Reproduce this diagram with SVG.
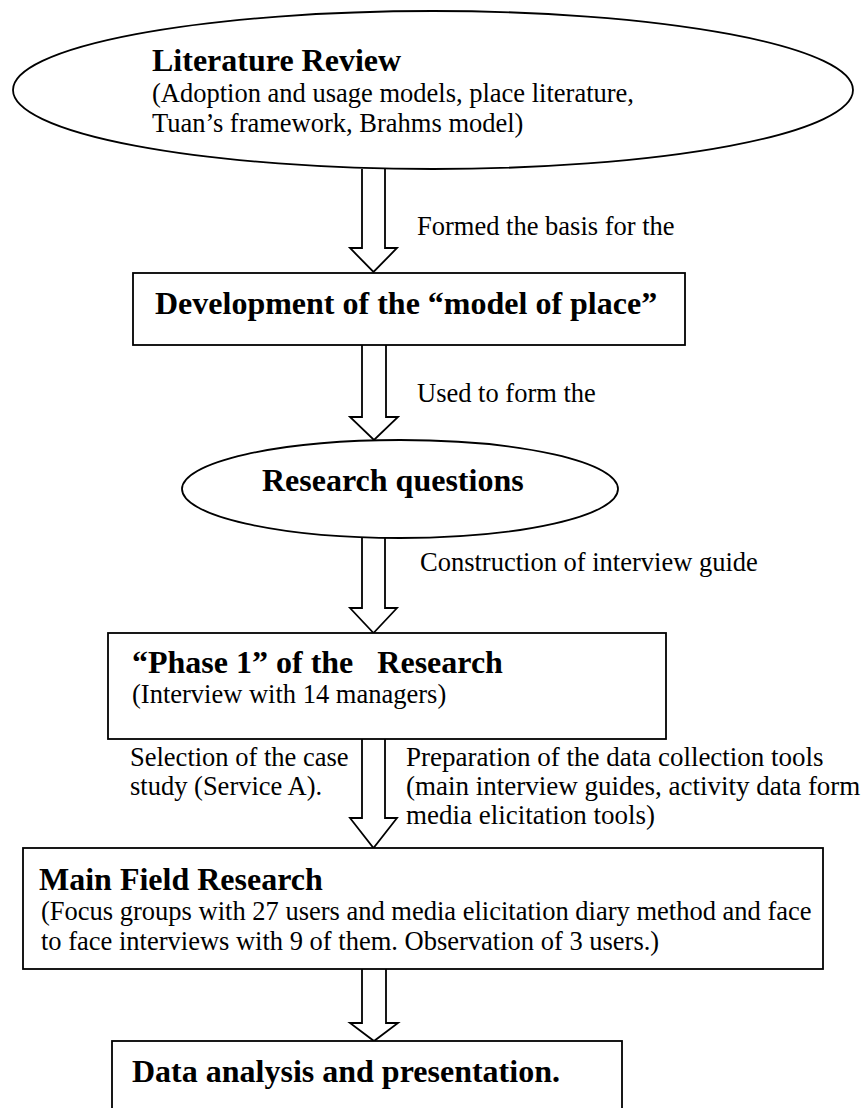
<svg xmlns="http://www.w3.org/2000/svg" width="866" height="1108" viewBox="0 0 866 1108">
  <defs>
    <style>
      .shape { fill: #ffffff; stroke: #000000; stroke-width: 1.8; }
      .arrow { fill: #ffffff; stroke: #000000; stroke-width: 1.8; stroke-linejoin: miter; }
      .title { font-family: "Liberation Serif", "Times New Roman", serif; font-size: 32px; font-weight: bold; fill: #000000; white-space: pre; }
      .body { font-family: "Liberation Serif", "Times New Roman", serif; font-size: 26.5px; fill: #000000; white-space: pre; }
    </style>
  </defs>
  <rect width="866" height="1108" fill="#ffffff"/>

  <!-- block arrows between the stages, with their labels -->
  <g id="connectors">
    <path class="arrow" d="M362,169 V248 H350 L373.5,272 L397,248 H385 V169"/>
    <path class="arrow" d="M362,345 V417 H350 L374,440 L398,417 H386 V345"/>
    <path class="arrow" d="M362,537 V608 H350 L373.5,633 L397,608 H385 V537"/>
    <path class="arrow" d="M362,739 V818 H350 L373.5,848 L397,818 H385 V739"/>
    <path class="arrow" d="M362,969 V1023 H350 L374,1041 L398,1023 H386 V969"/>
    <text class="body" x="417" y="235">Formed the basis for the</text>
    <text class="body" x="417" y="402">Used to form the</text>
    <text class="body" x="420" y="571">Construction of interview guide</text>
    <text class="body" x="130" y="766">Selection of the case</text>
    <text class="body" x="130" y="795">study (Service A).</text>
    <text class="body" x="406" y="766" style="font-size:27px">Preparation of the data collection tools</text>
    <text class="body" x="406" y="795" style="font-size:27px">(main interview guides, activity data form</text>
    <text class="body" x="406" y="824" style="font-size:27px">media elicitation tools)</text>
  </g>

  <g id="literature-review">
    <ellipse class="shape" cx="433" cy="90" rx="420" ry="79"/>
    <text class="title" x="152" y="71">Literature Review</text>
    <text class="body" x="152" y="102">(Adoption and usage models, place literature,</text>
    <text class="body" x="152" y="132">Tuan’s framework, Brahms model)</text>
  </g>

  <g id="model-of-place">
    <rect class="shape" x="133" y="273" width="552" height="72"/>
    <text class="title" x="155" y="314">Development of the “model of place”</text>
  </g>

  <g id="research-questions">
    <ellipse class="shape" cx="400" cy="489" rx="218" ry="49"/>
    <text class="title" x="262" y="491">Research questions</text>
  </g>

  <g id="phase-1">
    <rect class="shape" x="108" y="633" width="558" height="106"/>
    <text class="title" x="132" y="673">“Phase 1” of the   Research</text>
    <text class="body" x="132" y="703">(Interview with 14 managers)</text>
  </g>

  <g id="main-field-research">
    <rect class="shape" x="23" y="848" width="800" height="121"/>
    <text class="title" x="39" y="890">Main Field Research</text>
    <text class="body" x="41" y="920">(Focus groups with 27 users and media elicitation diary method and face</text>
    <text class="body" x="41" y="950">to face interviews with 9 of them. Observation of 3 users.)</text>
  </g>

  <g id="data-analysis">
    <rect class="shape" x="112" y="1041" width="510" height="80"/>
    <text class="title" x="132" y="1082">Data analysis and presentation.</text>
  </g>
</svg>
